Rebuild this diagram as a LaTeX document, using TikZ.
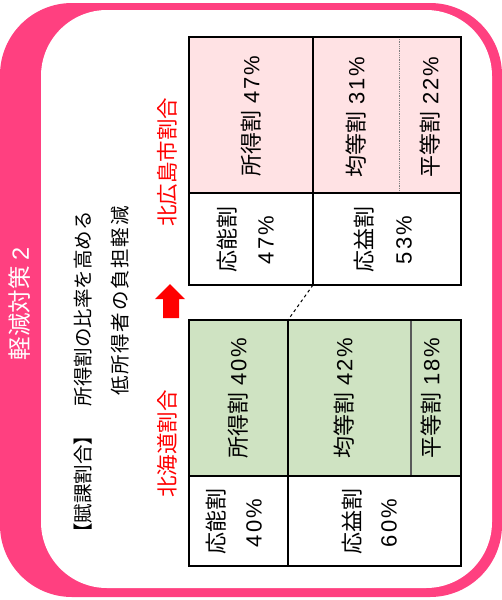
\documentclass[tikz,border=0pt]{standalone}
\usepackage{fontspec}
\setmainfont{Noto Sans CJK JP}
\newfontfamily\latf{Liberation Sans}
\newfontfamily\spacedcjk[LetterSpace=9]{Noto Sans CJK JP}
\definecolor{framepink}{RGB}{255,64,128}
\definecolor{cellpink}{RGB}{255,226,228}
\definecolor{cellgreen}{RGB}{207,227,194}
\definecolor{redtxt}{RGB}{255,0,0}
\tikzset{
  vtext/.style={rotate=90, inner sep=0pt, font=\fontsize{22}{24}\selectfont},
  bodytext/.style={rotate=90, inner sep=0pt, font=\fontsize{19.5}{21}\selectfont},
  redlabel/.style={rotate=90, inner sep=0pt, text=redtxt, font=\fontsize{21.5}{24}\selectfont},
  tline/.style={line width=2pt, draw=black},
}
\newcommand\pct[2]{{\latf #1\hspace{2pt}#2\hspace{2pt}\%}}
\newcommand\cell[3]{#1\hspace{7pt}\pct{#2}{#3}}
\begin{document}
\begin{tikzpicture}[x=1pt,y=-1pt]
\useasboundingbox (0,0) rectangle (502,600);
% frame
\fill[framepink, rounded corners=72pt] (0,3) rectangle (502,597);
\fill[white, rounded corners=66pt] (41,10) rectangle (492,588);
\node[rotate=90, inner sep=0pt, text=white, font=\fontsize{23.5}{25}\selectfont] (title) at (20,304) {軽減対策 {\latf 2}};
% body text
\node[bodytext] (line1) at (83,377) {【賦課割合】　所得割の比率を高める};
\node[rotate=90, inner sep=0pt, font=\fontsize{19.5}{21}\spacedcjk] (line2) at (120,301) {低所得者の負担軽減};
\node[redlabel] (kita) at (167,162) {北広島市割合};
\node[redlabel] (hok) at (167,444) {北海道割合};
% arrow
\fill[redtxt] (170,284) -- (185,299) -- (179,299) -- (179,318) -- (163,318) -- (163,299) -- (155,299) -- cycle;
% top table
\fill[cellpink] (189,37) rectangle (461,193);
\draw[gray, line width=0.8pt, densely dotted] (399,37) -- (399,193);
\draw[tline] (189,193) -- (461,193);
\draw[tline] (313,37) -- (313,285);
\draw[tline] (189,37) rectangle (461,285);
% bottom table
\fill[cellgreen] (189,320) rectangle (461,476);
\draw[black!65, line width=2pt] (411,320) -- (411,476);
\draw[tline] (189,476) -- (461,476);
\draw[tline] (288,320) -- (288,566);
\draw[tline] (189,320) rectangle (461,566);
\coordinate (topsplit) at (313,285);
\coordinate (botsplit) at (288,320);
\draw[black, line width=1pt, dashed] (topsplit) -- (botsplit);
% top cells
\node[vtext] (t1) at (251,116) {\cell{所得割}{4}{7}};
\node[vtext] (t2) at (356,117) {\cell{均等割}{3}{1}};
\node[vtext] (t3) at (430,117) {\cell{平等割}{2}{2}};
\node[vtext] (t4a) at (227,239) {応能割};
\node[vtext] (t4b) at (266,240) {\pct{4}{7}};
\node[vtext] (t5a) at (364,239) {応益割};
\node[vtext] (t5b) at (404,240) {\pct{5}{3}};
% bottom cells
\node[vtext] (b1) at (238,398) {\cell{所得割}{4}{0}};
\node[vtext] (b2) at (344,398) {\cell{均等割}{4}{2}};
\node[vtext] (b3) at (431,398) {\cell{平等割}{1}{8}};
\node[vtext] (b4a) at (216,521) {応能割};
\node[vtext] (b4b) at (254,523) {\pct{4}{0}};
\node[vtext] (b5a) at (352,521) {応益割};
\node[vtext] (b5b) at (389,523) {\pct{6}{0}};
\end{tikzpicture}
\end{document}
